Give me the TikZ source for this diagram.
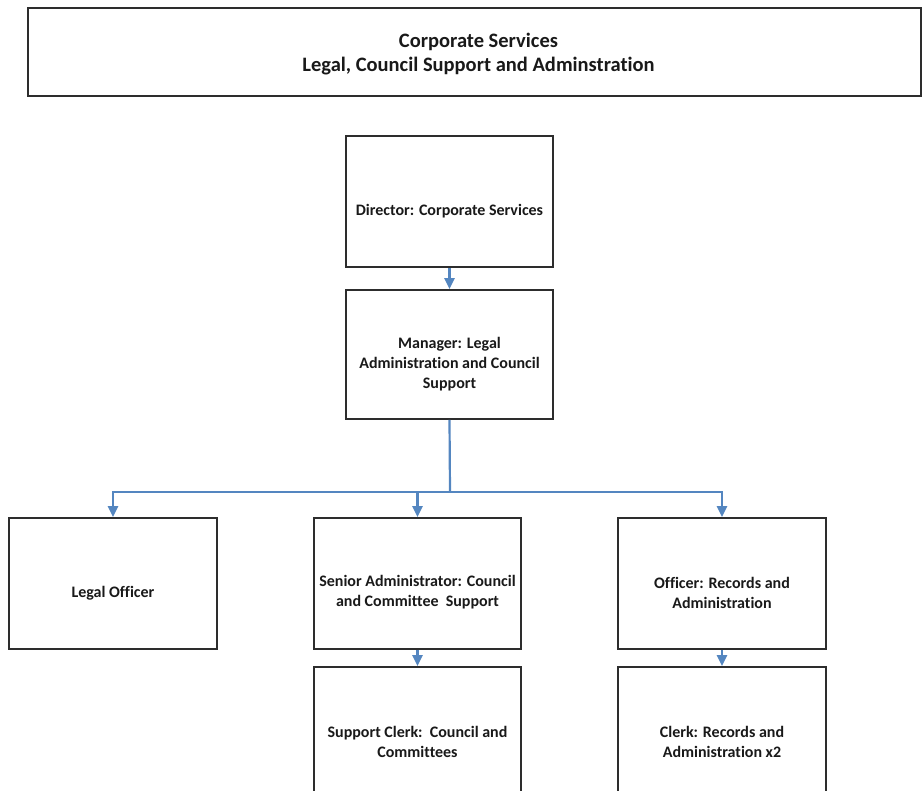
\documentclass[tikz,border=0pt]{standalone}
\usepackage{fontspec}
\setmainfont{Carlito}[Ligatures=NoCommon]
\usetikzlibrary{arrows.meta}
\definecolor{linkblue}{RGB}{84,134,192}
\definecolor{boxline}{RGB}{45,45,45}
\definecolor{txt}{RGB}{25,25,25}
\tikzset{
  orgbox/.style={draw=boxline, line width=1.7pt, fill=white, rectangle, inner sep=0pt},
  boxtext/.style={align=center, text=txt, inner sep=0pt,
    font=\fontsize{16}{20}\selectfont\bfseries},
  titlebox/.style={draw=boxline, line width=2pt, fill=white, rectangle, inner sep=0pt},
  titletext/.style={align=center, text=txt, inner sep=0pt,
    font=\fontsize{20.5}{24}\selectfont\bfseries},
  link/.style={draw=linkblue, line width=2.2pt},
  arr/.style={link, -{Triangle[length=11pt,width=10pt]}}
}
\begin{document}
\begin{tikzpicture}[x=1pt,y=-1pt]
\useasboundingbox (0,0) rectangle (924,791);
\clip (0,0) rectangle (924,791);
\node[titlebox, minimum width=893pt, minimum height=88pt] (title) at (474.5,52) {};
\node[titletext] (titlet) at ([xshift=4pt,yshift=-2pt]title.center) {Corporate Services\\Legal, Council Support and Adminstration};
\node[orgbox, minimum width=207pt, minimum height=131pt] (dir) at (449.5,201.5) {};
\node[orgbox, minimum width=207pt, minimum height=129pt] (man) at (449.5,354.5) {};
\node[orgbox, minimum width=208pt, minimum height=131pt] (lo) at (113,583.5) {};
\node[orgbox, minimum width=207pt, minimum height=131pt] (sa) at (417.5,583.5) {};
\node[orgbox, minimum width=208pt, minimum height=131pt] (or) at (722,583.5) {};
\node[orgbox, minimum width=207pt, minimum height=131pt] (sc) at (417.5,732.5) {};
\node[orgbox, minimum width=208pt, minimum height=131pt] (cr) at (722,732.5) {};
\node[boxtext] (dirt) at ([yshift=-10pt]dir.center) {Director: Corporate Services};
\node[boxtext] (mant) at ([yshift=-10pt]man.center) {Manager: Legal\\Administration and Council\\Support};
\node[boxtext] (lot) at ([yshift=-10pt]lo.center) {Legal Officer};
\node[boxtext] (sat) at ([yshift=-9pt]sa.center) {Senior Administrator: Council\\and Committee\ \ Support};
\node[boxtext] (ort) at ([yshift=-9pt]or.center) {Officer: Records and\\Administration};
\node[boxtext] (sct) at ([yshift=-9pt]sc.center) {Support Clerk:\ \ Council and\\Committees};
\node[boxtext] (crt) at ([yshift=-9pt]cr.center) {Clerk: Records and\\Administration x2};
\coordinate (j) at (450,492);
\draw[arr] (dir.south) -- (man.north);
\draw[link] (man.south) -- (j);
\draw[arr] (j) -| (lo.north);
\draw[arr] (j) -| (sa.north);
\draw[arr] (j) -| (or.north);
\draw[arr] (sa.south) -- (sc.north);
\draw[arr] (or.south) -- (cr.north);
\end{tikzpicture}
\end{document}
